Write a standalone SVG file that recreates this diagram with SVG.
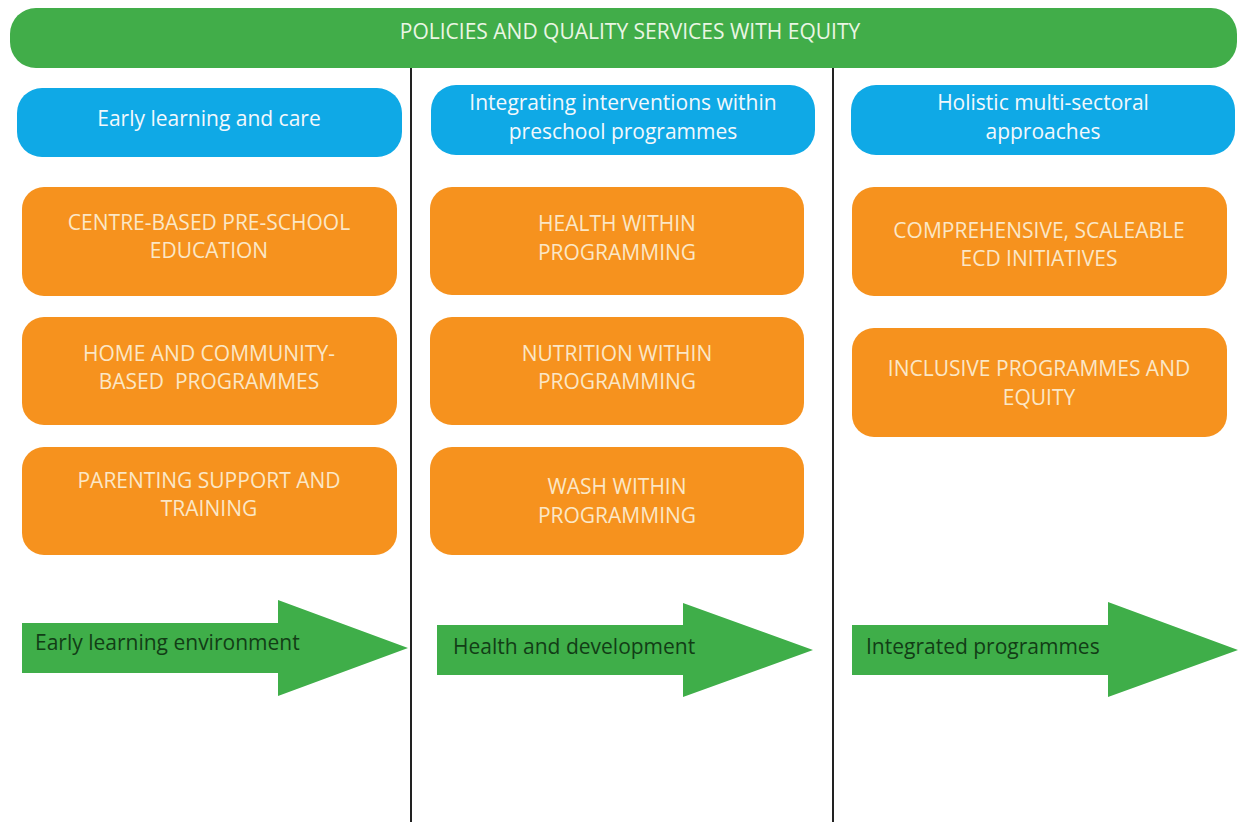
<svg xmlns="http://www.w3.org/2000/svg" width="1247" height="822" viewBox="0 0 1247 822">
<style>
.t{font-family:"Open Sans","Liberation Sans",sans-serif;text-anchor:middle;white-space:pre}
.ban{fill:#41ad49}
.blue{fill:#0fa9e6}
.org{fill:#f6921e}
.arr{fill:#3fae49}
.bt{fill:#eaf6e4;font-size:21px}
.blt{fill:#f2f8fc;font-size:21px}
.ot{fill:#fbe7c6;font-size:21px}
.at{fill:#123d16;font-size:21px;text-anchor:start;font-family:"Open Sans","Liberation Sans",sans-serif}
</style>
<rect width="1247" height="822" fill="#ffffff"/>
<g id="connectors">
<line x1="411" y1="68" x2="411" y2="822" stroke="#222" stroke-width="2"/>
<line x1="833" y1="68" x2="833" y2="822" stroke="#222" stroke-width="2"/>
</g>
<g id="banner">
<rect class="ban" x="10" y="8" width="1227" height="60" rx="26"/>
<text class="t bt" x="630" y="39">POLICIES AND QUALITY SERVICES WITH EQUITY</text>
</g>
<g id="head1">
<rect class="blue" x="17" y="88" width="385" height="69" rx="25"/>
<text class="t blt" x="209" y="126">Early learning and care</text>
</g>
<g id="head2">
<rect class="blue" x="431" y="85" width="384" height="70" rx="25"/>
<text class="t blt" x="623" y="110">Integrating interventions within</text>
<text class="t blt" x="623" y="139">preschool programmes</text>
</g>
<g id="head3">
<rect class="blue" x="851" y="85" width="384" height="70" rx="25"/>
<text class="t blt" x="1043" y="110">Holistic multi-sectoral</text>
<text class="t blt" x="1043" y="139">approaches</text>
</g>
<g id="c1b1">
<rect class="org" x="22" y="187" width="375" height="109" rx="22"/>
<text class="t ot" x="209" y="230">CENTRE-BASED PRE-SCHOOL</text>
<text class="t ot" x="209" y="258">EDUCATION</text>
</g>
<g id="c1b2">
<rect class="org" x="22" y="317" width="375" height="108" rx="22"/>
<text class="t ot" x="209" y="361">HOME AND COMMUNITY-</text>
<text class="t ot" x="209" y="389">BASED  PROGRAMMES</text>
</g>
<g id="c1b3">
<rect class="org" x="22" y="447" width="375" height="108" rx="22"/>
<text class="t ot" x="209" y="488">PARENTING SUPPORT AND</text>
<text class="t ot" x="209" y="516">TRAINING</text>
</g>
<g id="c2b1">
<rect class="org" x="430" y="187" width="374" height="108" rx="22"/>
<text class="t ot" x="617" y="231">HEALTH WITHIN</text>
<text class="t ot" x="617" y="260">PROGRAMMING</text>
</g>
<g id="c2b2">
<rect class="org" x="430" y="317" width="374" height="108" rx="22"/>
<text class="t ot" x="617" y="361">NUTRITION WITHIN</text>
<text class="t ot" x="617" y="389">PROGRAMMING</text>
</g>
<g id="c2b3">
<rect class="org" x="430" y="447" width="374" height="108" rx="22"/>
<text class="t ot" x="617" y="494">WASH WITHIN</text>
<text class="t ot" x="617" y="523">PROGRAMMING</text>
</g>
<g id="c3b1">
<rect class="org" x="852" y="187" width="375" height="109" rx="22"/>
<text class="t ot" x="1039" y="238">COMPREHENSIVE, SCALEABLE</text>
<text class="t ot" x="1039" y="266">ECD INITIATIVES</text>
</g>
<g id="c3b2">
<rect class="org" x="852" y="328" width="375" height="109" rx="22"/>
<text class="t ot" x="1039" y="376">INCLUSIVE PROGRAMMES AND</text>
<text class="t ot" x="1039" y="405">EQUITY</text>
</g>
<g id="arrow1">
<polygon class="arr" points="22,623 278,623 278,600 408,648 278,696 278,673 22,673"/>
<text class="at" x="35" y="650">Early learning environment</text>
</g>
<g id="arrow2">
<polygon class="arr" points="437,625 683,625 683,603 813,650 683,697 683,675 437,675"/>
<text class="at" x="453" y="654">Health and development</text>
</g>
<g id="arrow3">
<polygon class="arr" points="852,625 1108,625 1108,602 1238,650 1108,697 1108,675 852,675"/>
<text class="at" x="866" y="654">Integrated programmes</text>
</g>
</svg>
